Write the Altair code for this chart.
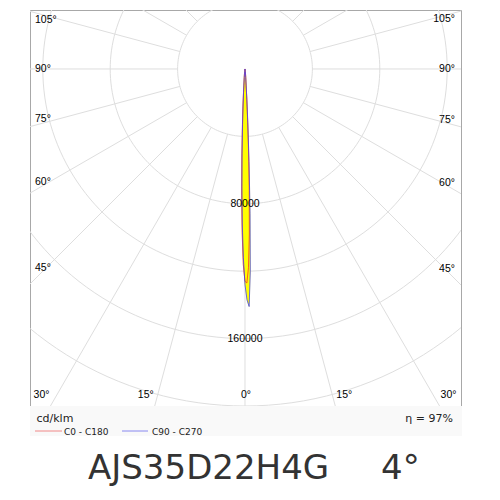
import math
import altair as alt
import pandas as pd

# ---------------- data ----------------
gamma_deg = [-20, -10, -8, -6, -5, -4, -3.5, -3, -2.5, -2, -1.5, -1, -0.5, 0,
             0.5, 1, 1.5, 2, 2.5, 3, 3.5, 4, 5, 6, 8, 10, 20]
c0_c180 = [0, 800, 1500, 3000, 5000, 10000, 16000, 25000, 37000, 54000, 75000,
           97000, 116000, 126000, 127000, 118000, 98000, 72000, 47000, 28000,
           16000, 9000, 5000, 3000, 1500, 800, 0]
c90_c270 = [0, 800, 1500, 3000, 5000, 9000, 14000, 22000, 33000, 50000, 70000,
            92000, 112000, 128000, 137000, 141000, 120000, 86000, 55000, 32000,
            18000, 10000, 5000, 3000, 1500, 800, 0]
ring_values = [40000, 80000, 120000, 160000, 200000, 240000]
ring_label_values = [80000, 160000]
radial_angles = list(range(0, 360, 15))
side_label_angles = [105, 90, 75, 60, 45]
bottom_label_angles = [30, 15, 0]
legend_names = ["C0 - C180", "C90 - C270"]
line_colors = ["#ff2a2a", "#3a3aff"]
legend_colors = ["#f08888", "#8888f0"]
title_text = "AJS35D22H4G"
beam_text = "4°"
unit_text = "cd/klm"
eff_text = "η = 97%"

# ---------------- layout ----------------
W, H = 431, 396
XDOM = [-127600, 128200]
YDOM = [-200000, 35000]
PX = (XDOM[1] - XDOM[0]) / W  # data units per pixel

xs = alt.Scale(domain=XDOM, nice=False, zero=False)
ys = alt.Scale(domain=YDOM, nice=False, zero=False)
X = alt.X("x:Q", scale=xs, axis=None)
Y = alt.Y("y:Q", scale=ys, axis=None)

# curves
rows = []
for name, vals in zip(legend_names, [c0_c180, c90_c270]):
    for i, (g, v) in enumerate(zip(gamma_deg, vals)):
        r = math.radians(g)
        rows.append(dict(series=name, idx=i, x=v * math.sin(r), y=-v * math.cos(r)))
curve_df = pd.DataFrame(rows)

# grid circles
crow = []
for rv in ring_values:
    for k in range(0, 361, 2):
        a = math.radians(k)
        crow.append(dict(ring=rv, idx=k, x=rv * math.cos(a), y=rv * math.sin(a)))
circle_df = pd.DataFrame(crow)

# radial lines
R0, R1 = ring_values[0], 500000
rad_df = pd.DataFrame([
    dict(x=R0 * math.sin(math.radians(a)), y=-R0 * math.cos(math.radians(a)),
         x2=R1 * math.sin(math.radians(a)), y2=-R1 * math.cos(math.radians(a)))
    for a in radial_angles])

ring_lab_df = pd.DataFrame(dict(x=[0] * len(ring_label_values),
                                y=[-v for v in ring_label_values],
                                t=[str(v) for v in ring_label_values]))

# side angle labels
def side_rows(sign):
    out = []
    xin = (XDOM[0] + 12 * PX) if sign < 0 else (XDOM[1] - 12 * PX)
    for a in side_label_angles:
        ar = math.radians(a)
        yint = abs(xin) * math.cos(ar) / math.sin(ar) * -1
        shift = 4 * PX if a < 90 else (-5 * PX if a > 90 else 0)
        xl = (XDOM[0] + 5 * PX) if sign < 0 else (XDOM[1] - 6 * PX)
        out.append(dict(x=xl, y=yint + shift, t=f"{a}°"))
    return pd.DataFrame(out)

left_lab_df = side_rows(-1)
right_lab_df = side_rows(1)

ybot = YDOM[0] + 11 * PX
def bottom_rows(sign, angles):
    return pd.DataFrame([dict(x=sign * abs(YDOM[0]) * math.tan(math.radians(a)) + sign * 1 * PX,
                              y=ybot, t=f"{a}°") for a in angles])

bl_df = bottom_rows(-1, [a for a in bottom_label_angles if a > 0])
br_df = bottom_rows(1, [a for a in bottom_label_angles if a > 0])
bc_df = bottom_rows(1, [a for a in bottom_label_angles if a == 0])

one = pd.DataFrame({"a": [0]})
GRID = "#dedede"
LBL_FONT = "Liberation Sans"
LBL_SIZE = 10.5
LBL_COL = "#000"

layers = []
# legend background strip
layers.append(alt.Chart(one).mark_rect(color="#f9f9f9").encode(
    x=alt.value(0), x2=alt.value(432), y=alt.value(396), y2=alt.value(426)))
# grid
layers.append(alt.Chart(circle_df).mark_line(color=GRID, strokeWidth=1, clip=True).encode(
    x=X, y=Y, detail="ring:N", order="idx:Q"))
layers.append(alt.Chart(rad_df).mark_rule(color=GRID, strokeWidth=1, clip=True).encode(
    x=X, y=Y, x2="x2:Q", y2="y2:Q"))
# yellow fill
for name in legend_names:
    layers.append(alt.Chart(curve_df[curve_df.series == name]).mark_line(
        fill="#ffff00", stroke="#ffff00", strokeWidth=0.5, clip=True).encode(
        x=X, y=Y, order="idx:Q"))
# curves
for name, col in zip(legend_names, line_colors):
    layers.append(alt.Chart(curve_df[curve_df.series == name]).mark_line(
        color=col, strokeWidth=1, opacity=0.75, clip=True).encode(
        x=X, y=Y, order="idx:Q"))
# ring labels
layers.append(alt.Chart(ring_lab_df).mark_text(
    font=LBL_FONT, fontSize=LBL_SIZE, color=LBL_COL, baseline="middle", align="center").encode(
    x=X, y=Y, text="t:N"))
# angle labels
for df, al in [(left_lab_df, "left"), (right_lab_df, "right"), (bl_df, "right"),
               (br_df, "left"), (bc_df, "center")]:
    layers.append(alt.Chart(df).mark_text(
        font=LBL_FONT, fontSize=LBL_SIZE, color=LBL_COL, baseline="middle", align=al).encode(
        x=X, y=Y, text="t:N"))
# texts under the diagram
layers.append(alt.Chart(one).mark_text(
    text=unit_text, font="DejaVu Sans", fontSize=11, color="#222", align="left", baseline="middle").encode(
    x=alt.value(6.5), y=alt.value(409)))
layers.append(alt.Chart(one).mark_text(
    text=eff_text, font="DejaVu Sans", fontSize=11, color="#222", align="right", baseline="middle").encode(
    x=alt.value(423), y=alt.value(409)))
leg_x = [(5, 32, 34), (92, 118, 122)]
for (x1, x2, xt), name, col in zip(leg_x, legend_names, legend_colors):
    layers.append(alt.Chart(one).mark_rule(color=col, strokeWidth=1).encode(
        x=alt.value(x1), x2=alt.value(x2), y=alt.value(421)))
    layers.append(alt.Chart(one).mark_text(
        text=name, font="DejaVu Sans", fontSize=9, color="#222", align="left", baseline="middle").encode(
        x=alt.value(xt), y=alt.value(422)))
layers.append(alt.Chart(one).mark_text(
    text=title_text, font="DejaVu Sans", fontSize=34, color="#333", align="left", baseline="middle").encode(
    x=alt.value(58), y=alt.value(459)))
layers.append(alt.Chart(one).mark_text(
    text=beam_text, font="DejaVu Sans", fontSize=34, color="#333", align="left", baseline="middle").encode(
    x=alt.value(351), y=alt.value(459)))

chart = alt.layer(*layers).properties(
    width=W, height=H,
    padding={"left": 22, "top": 2, "right": 31, "bottom": 86},
    autosize=alt.AutoSizeParams(type="none"),
    background="white",
).configure_view(stroke="#a8a8a8", strokeWidth=1)

chart.save("out.html", embed_options={"renderer": "svg", "actions": False})
